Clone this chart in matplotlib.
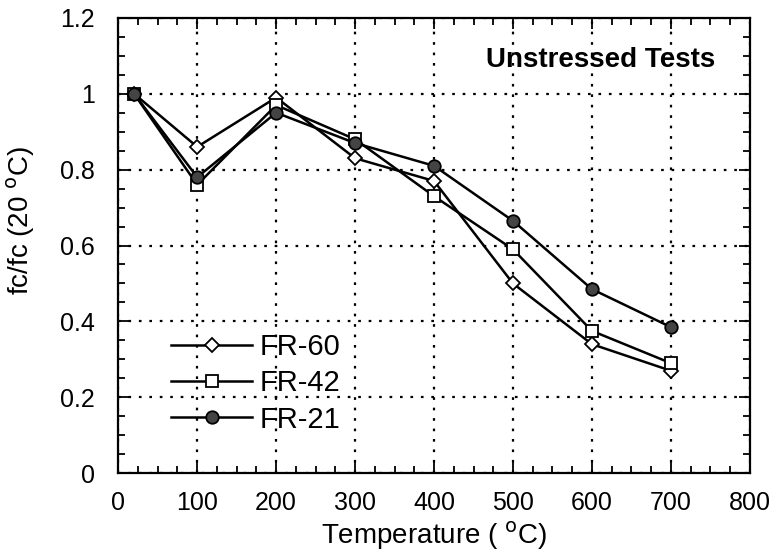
import matplotlib
matplotlib.use("Agg")
import matplotlib.pyplot as plt
from matplotlib.ticker import MultipleLocator

plt.rcParams['font.family'] = ['Liberation Sans', 'DejaVu Sans']

temps = [20, 100, 200, 300, 400, 500, 600, 700]
fr60 = [1.0, 0.86, 0.99, 0.83, 0.77, 0.50, 0.34, 0.27]
fr42 = [1.0, 0.76, 0.97, 0.88, 0.73, 0.59, 0.375, 0.29]
fr21 = [1.0, 0.78, 0.95, 0.87, 0.81, 0.665, 0.485, 0.385]
xticks = [0, 100, 200, 300, 400, 500, 600, 700, 800]
yticks = [0, 0.2, 0.4, 0.6, 0.8, 1.0, 1.2]
yticklabels = ['0', '0.2', '0.4', '0.6', '0.8', '1', '1.2']

fig = plt.figure(figsize=(7.73, 5.58), dpi=100)
ax = fig.add_axes([0.153, 0.152, 0.817, 0.816])

ax.plot(temps, fr60, color='black', lw=1.8, marker='D', ms=7, mfc='white', mec='black', mew=1.3, label='FR-60')
ax.plot(temps, fr42, color='black', lw=1.8, marker='s', ms=9, mfc='white', mec='black', mew=1.3, label='FR-42')
ax.plot(temps, fr21, color='black', lw=1.8, marker='o', ms=9, mfc='#444444', mec='black', mew=1.3, label='FR-21')

ax.set_xlim(0, 800)
ax.set_ylim(0, 1.2)
ax.set_xticks(xticks)
ax.set_yticks(yticks)
ax.set_yticklabels(yticklabels)
ax.xaxis.set_minor_locator(MultipleLocator(25))
ax.yaxis.set_minor_locator(MultipleLocator(0.05))
ax.tick_params(which='both', direction='in', top=True, right=True, width=1.3)
ax.tick_params(which='major', length=8, labelsize=18)
ax.tick_params(axis='x', which='major', pad=13)
ax.tick_params(axis='y', which='major', pad=17)
ax.tick_params(which='minor', length=5)
for s in ax.spines.values():
    s.set_linewidth(1.6)

ax.grid(True, which='major', color='black', linestyle=(0, (1.2, 3.5)), linewidth=1.6)

ax.set_xlabel('Temperature ( $^{\\mathrm{o}}$C)', fontsize=20, labelpad=3)
ax.set_ylabel('fc/fc (20 $^{\\mathrm{o}}$C)', fontsize=20)
ax.yaxis.set_label_coords(-0.128, 0.555)

ax.text(0.945, 0.908, 'Unstressed Tests', transform=ax.transAxes, ha='right', va='center',
        fontsize=20, fontweight='bold')

leg = ax.legend(loc='lower left', bbox_to_anchor=(0.06, 0.055), frameon=False, fontsize=21,
                handlelength=2.8, labelspacing=0.28, handletextpad=0.25, borderpad=0)

fig.savefig('out.png', dpi=100)
